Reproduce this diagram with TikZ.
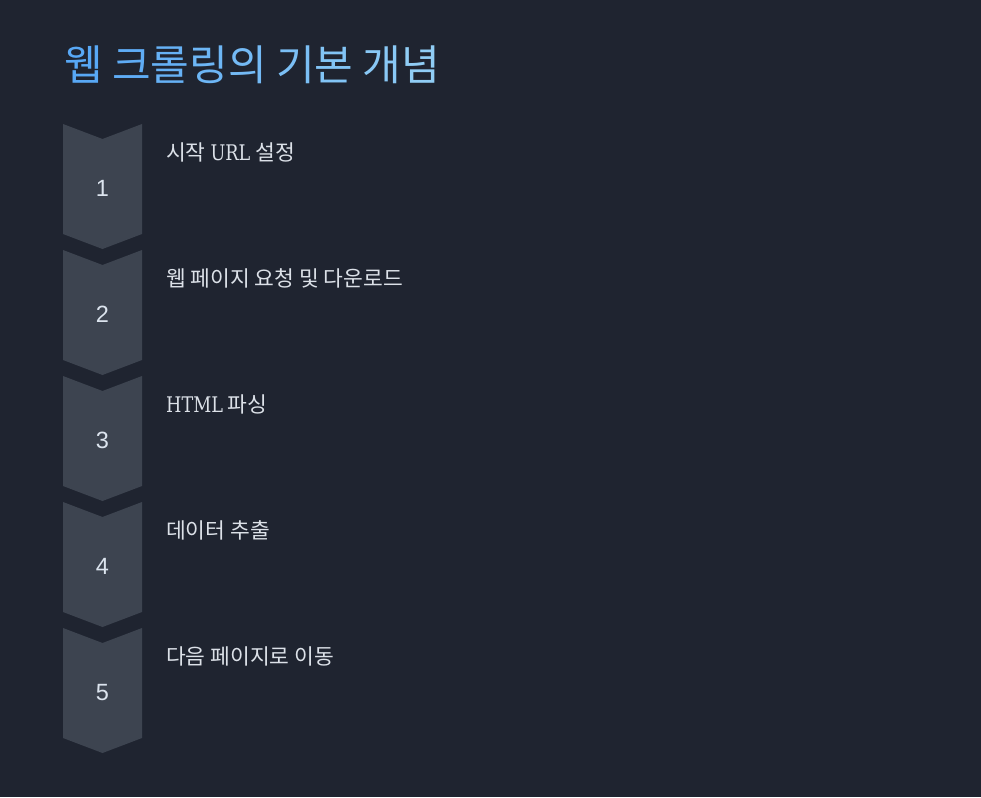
\documentclass[tikz,border=0pt]{standalone}
\usepackage{fontspec}
\newfontfamily\kr{Noto Sans CJK KR}
\newfontfamily\slab[FakeStretch=0.82]{DejaVu Serif}
\newfontfamily\numfont{Liberation Sans}
\definecolor{bgcol}{HTML}{1F2430}
\definecolor{chevcol}{HTML}{3D4450}
\definecolor{labcol}{HTML}{DCE1E8}
\definecolor{numcol}{HTML}{DCE4EE}
\definecolor{tA}{HTML}{58A8F5}
\definecolor{tB}{HTML}{90CDF5}
\newcommand{\tc}[2]{\textcolor{tB!#1!tA}{#2}}
\begin{document}
\begin{tikzpicture}[x=1pt,y=-1pt,
  chev/.style={fill=chevcol},
  numlabel/.style={font=\numfont\fontsize{23.5}{23.5}\selectfont, text=numcol, anchor=base, inner sep=0pt},
  steplabel/.style={font=\kr\fontsize{21.5}{21.5}\selectfont, text=labcol, anchor=base west, inner sep=0pt},
  titlelabel/.style={font=\kr\fontsize{42}{42}\selectfont, anchor=base west, inner sep=0pt}]
\fill[bgcol] (0,0) rectangle (981,797);
\useasboundingbox (0,0) rectangle (981,797);
\node[titlelabel] (title) at (64,81) {\tc{0}{웹} \tc{12}{크}\tc{25}{롤}\tc{37}{링}\tc{50}{의} \tc{62}{기}\tc{75}{본} \tc{87}{개}\tc{100}{념}};
\foreach \i/\t in {1/{시작 {\slab URL} 설정},2/{웹 페이지 요청 및 다운로드},3/{{\slab HTML} 파싱},4/{데이터 추출},5/{다음 페이지로 이동}}{
  \pgfmathsetmacro{\y}{124+126*(\i-1)}
  \fill[chev] (63,\y) -- (102.5,\y+15) -- (142,\y) -- (142,\y+110) -- (102.5,\y+125) -- (63,\y+110) -- cycle;
  \node[numlabel] (n\i) at (102.5,\y+72) {\i};
  \node[steplabel] (s\i) at (166,\y+36) {\t};
}
\end{tikzpicture}
\end{document}
